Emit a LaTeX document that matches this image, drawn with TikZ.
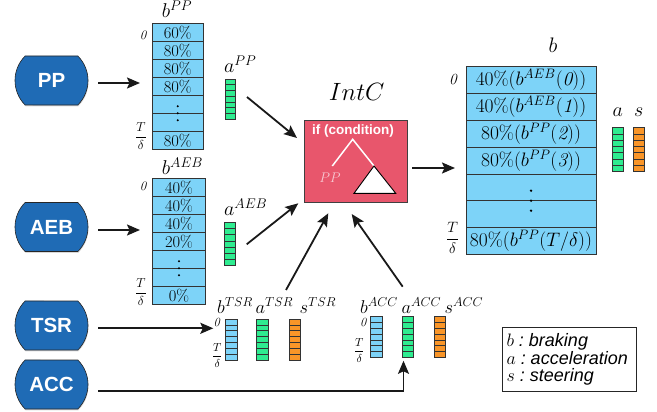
\documentclass[tikz,border=0pt]{standalone}
\usepackage{fix-cm}
\usepackage{fontspec}
\newfontfamily\hv{Liberation Sans}
\usetikzlibrary{arrows.meta,shapes.misc,shadows,calc}
\definecolor{cellblue}{HTML}{7DD3F8}
\definecolor{accgreen}{HTML}{2EEC90}
\definecolor{strorange}{HTML}{F99528}
\definecolor{blobblue}{HTML}{1F6BB5}
\definecolor{intcred}{HTML}{E8566C}
\definecolor{pplight}{HTML}{F7C9D2}
\newcommand{\cbar}[7]{%
  \node[barbox, fill=#6, minimum width=#4pt-#2pt, minimum height=#5pt-#3pt] (#1) at ({(#2+#4)/2},{(#3+#5)/2}) {};
  \pgfmathtruncatemacro{\nmcells}{#7-1}%
  \foreach \k in {1,...,\nmcells} {\draw[barline] ({#2},{#3+(#5-#3)*\k/#7}) -- ({#4},{#3+(#5-#3)*\k/#7});}%
}
\begin{document}
\begin{tikzpicture}[x=1pt,y=-1pt,
  blob/.style={rounded rectangle, rounded rectangle arc length=90, draw=black!85, line width=0.6pt,
    fill=blobblue, minimum width=73pt, minimum height=49pt, inner sep=0pt, text=white,
    font=\hv\bfseries\fontsize{20.5}{20.5}\selectfont,
    drop shadow={shadow xshift=0.5pt, shadow yshift=-1.3pt, opacity=0.3}},
  cell/.style={draw=black!80, line width=0.8pt, fill=cellblue, inner sep=0pt, outer sep=0pt,
    minimum height=18pt, font=\fontsize{16.5}{16.5}\selectfont},
  bigcell/.style={cell, minimum width=130pt, minimum height=26.8pt, font=\fontsize{19.5}{19.5}\selectfont},
  barbox/.style={draw=black!80, line width=0.8pt, inner sep=0pt, outer sep=0pt},
  barline/.style={draw=black!80, line width=0.7pt},
  lab/.style={inner sep=0pt, font=\fontsize{20}{20}\selectfont},
  smlab/.style={inner sep=0pt, font=\fontsize{18.5}{18.5}\selectfont},
  zlab/.style={inner sep=0pt, font=\fontsize{13}{13}\selectfont\itshape},
  tlab/.style={inner sep=0pt, font=\fontsize{13}{13}\selectfont},
  arr/.style={-{Stealth[length=13pt,width=11pt,inset=2.5pt]}, line width=1.8pt, draw=black!90},
  intcbox/.style={draw=black!75, line width=0.8pt, fill=intcred, minimum width=103.7pt, minimum height=82.7pt, inner sep=0pt},
  legend/.style={draw=black!85, line width=0.8pt, text width=126pt, inner xsep=4.2pt, minimum height=64.4pt,
    align=left, font=\fontsize{18}{16.7}\selectfont}
]
\path[use as bounding box] (0,0) rectangle (657,412);

% source blobs
\node[blob] (pp) at (51.5,80.5) {PP};
\node[blob] (aeb) at (51.5,227) {AEB};
\node[blob] (tsr) at (51.5,325.5) {TSR};
\node[blob] (acc) at (51.5,384.5) {ACC};

% b^PP column
\foreach \t [count=\i] in {60\%,80\%,80\%,80\%,{},{},80\%}
  \node[cell, minimum width=51.5pt] (bpp\i) at (177.75,{23.3+18*\i-9}) {\t};
\foreach \d in {-7,0,7} \fill ({177.75},{113.3+\d}) circle (1.1);
\node[lab, anchor=base] (bpplab) at (177,17.3) {$b^{PP}$};
\node[zlab] (bppzero) at (143,35) {0};
\node[tlab] (bppT) at (141,136) {$\displaystyle\frac{T}{\delta}$};

% a^PP
\cbar{app}{225}{79}{235.7}{119}{accgreen}{7}
\node[lab, anchor=base west] (applab) at (224,72.7) {$a^{PP}$};

% b^AEB column
\foreach \t [count=\i] in {40\%,40\%,40\%,20\%,{},{},0\%}
  \node[cell, minimum width=53pt] (baeb\i) at (179,{178.3+18*\i-9}) {\t};
\foreach \d in {-7,0,7} \fill ({179},{268.3+\d}) circle (1.1);
\node[lab, anchor=base] (baeblab) at (182.5,175) {$b^{AEB}$};
\node[zlab] (baebzero) at (143,186.7) {0};
\node[tlab] (baebT) at (141,292) {$\displaystyle\frac{T}{\delta}$};

% a^AEB
\cbar{aaeb}{224}{222.3}{235.7}{265.7}{accgreen}{7}
\node[lab, anchor=base west] (aaeblab) at (224,215.7) {$a^{AEB}$};

% IntC
\node[intcbox] (intc) at (355.85,161.35) {};
\node[inner sep=0pt, font=\fontsize{25}{25}\selectfont] (intclab) at (356.7,91.7) {$IntC$};
\node[inner sep=0pt, text=white, font=\hv\bfseries\fontsize{13.5}{13.5}\selectfont] (cond) at (353,131.2) {if (condition)};
\coordinate (root) at (352.7,139.3);
\coordinate (leaf) at (332.3,166);
\coordinate (tri1) at (374,166);
\coordinate (tri2) at (354,193.3);
\coordinate (tri3) at (395.7,193.3);
\draw[white, line width=1.5pt] (leaf) -- (root) -- (tri1);
\draw[black, fill=white, line width=0.9pt, line join=miter] (tri1) -- (tri2) -- (tri3) -- cycle;
\node[inner sep=0pt, text=pplight, font=\fontsize{14}{14}\selectfont] (ppleaf) at (330,177.3) {$PP$};

% b column
\node[bigcell] (bb1) at (531,{66.7+26.8*0.5}) {40\%$(b^{AEB}(\mathit{0}))$};
\node[bigcell] (bb2) at (531,{66.7+26.8*1.5}) {40\%$(b^{AEB}(\mathit{1}))$};
\node[bigcell] (bb3) at (531,{66.7+26.8*2.5}) {80\%$(b^{PP}(\mathit{2}))$};
\node[bigcell] (bb4) at (531,{66.7+26.8*3.5}) {80\%$(b^{PP}(\mathit{3}))$};
\node[bigcell] (bb5) at (531,{66.7+26.8*4.5}) {};
\node[bigcell] (bb6) at (531,{66.7+26.8*5.5}) {};
\node[bigcell] (bb7) at (531,{66.7+26.8*6.5}) {80\%$(b^{PP}(T/\delta))$};
\foreach \d in {-10,0,10} \fill ({531},{200.7+\d}) circle (1.3);
\node[lab, font=\fontsize{21}{21}\selectfont] (bblab) at (553,45) {$b$};
\node[zlab, font=\fontsize{15.5}{15.5}\selectfont\itshape] (bbzero) at (453,80) {0};
\node[tlab, font=\fontsize{15}{15}\selectfont] (bbT) at (452.7,238) {$\displaystyle\frac{T}{\delta}$};

% a, s final
\cbar{afin}{612.3}{127.7}{623.3}{171.7}{accgreen}{7}
\cbar{sfin}{633.7}{127.7}{644.3}{171.7}{strorange}{7}
\node[lab] (afinlab) at (617.7,111.7) {$a$};
\node[lab] (sfinlab) at (638.8,111.7) {$s$};

% TSR bars
\cbar{btsr}{225.7}{319}{237}{360}{cellblue}{7}
\cbar{atsr}{256.7}{319}{268.3}{360}{accgreen}{7}
\cbar{stsr}{289}{319}{300}{360}{strorange}{7}
\node[smlab, anchor=base west] (btsrlab) at (217,313.3) {$b^{TSR}$};
\node[smlab, anchor=base west] (atsrlab) at (255.5,313.3) {$a^{TSR}$};
\node[smlab, anchor=base west] (stsrlab) at (299.5,313.3) {$s^{TSR}$};
\node[zlab, font=\fontsize{12.5}{12.5}\selectfont\itshape] (tsrzero) at (216.7,322.5) {0};
\node[tlab, font=\fontsize{11.5}{11.5}\selectfont] (tsrT) at (217.3,355.5) {$\displaystyle\frac{T}{\delta}$};

% ACC bars
\cbar{bacc}{370.3}{316.7}{382.3}{357.3}{cellblue}{7}
\cbar{aacc}{402}{316.7}{413.7}{357.3}{accgreen}{7}
\cbar{sacc}{434.3}{316.7}{445.7}{357.3}{strorange}{7}
\node[smlab, anchor=base west] (bacclab) at (360,313.3) {$b^{ACC}$};
\node[smlab, anchor=base west] (aacclab) at (401.5,313.3) {$a^{ACC}$};
\node[smlab, anchor=base west] (sacclab) at (444.5,313.3) {$s^{ACC}$};
\node[zlab, font=\fontsize{12.5}{12.5}\selectfont\itshape] (acczero) at (363.3,322.5) {0};
\node[tlab, font=\fontsize{11.5}{11.5}\selectfont] (accT) at (359.3,350.5) {$\displaystyle\frac{T}{\delta}$};

% legend
\node[legend] (legend) at (569.5,359.5) {$b$\hspace{5pt}{\hv\itshape :\hspace{5pt}braking}\\ $a$\hspace{5pt}{\hv\itshape :\hspace{5pt}acceleration}\\ $s$\hspace{5pt}{\hv\itshape :\hspace{5pt}steering}};

% connectors
\draw[arr, shorten <=10pt, shorten >=12pt] ([yshift=-2.5pt]pp.east) -- ([yshift=-2.5pt]pp.east -| bpp1.west);
\draw[arr, shorten <=10pt, shorten >=12.5pt] ([yshift=-3pt]aeb.east) -- ([yshift=-3pt]aeb.east -| baeb1.west);
\draw[arr, shorten <=10pt, shorten >=12.4pt] ([yshift=-2.8pt]tsr.east) -- ([yshift=-2.8pt]tsr.east -| btsr.west);
\coordinate (accturn) at (403.5,390.7);
\draw[arr, shorten <=10pt, shorten >=3.5pt, line join=miter] ([yshift=-6.2pt]acc.east) -- (accturn) -- (accturn |- aacc.south);

\coordinate (appout) at (247,97);
\coordinate (intcin1) at (297,138);
\draw[arr] (appout) -- (intcin1);
\coordinate (aaebout) at (246.7,244.3);
\coordinate (intcin2) at (298.3,203.3);
\draw[arr] (aaebout) -- (intcin2);
\coordinate (tsrout) at (286,290);
\coordinate (intcin3) at (328.3,213.3);
\draw[arr] (tsrout) -- (intcin3);
\coordinate (accout) at (402.7,286.7);
\coordinate (intcin4) at (351.7,214);
\draw[arr] (accout) -- (intcin4);
\coordinate (intcout) at (412,168);
\draw[arr, shorten >=11pt] (intcout) -- (intcout -| bb1.west);
\end{tikzpicture}
\end{document}
